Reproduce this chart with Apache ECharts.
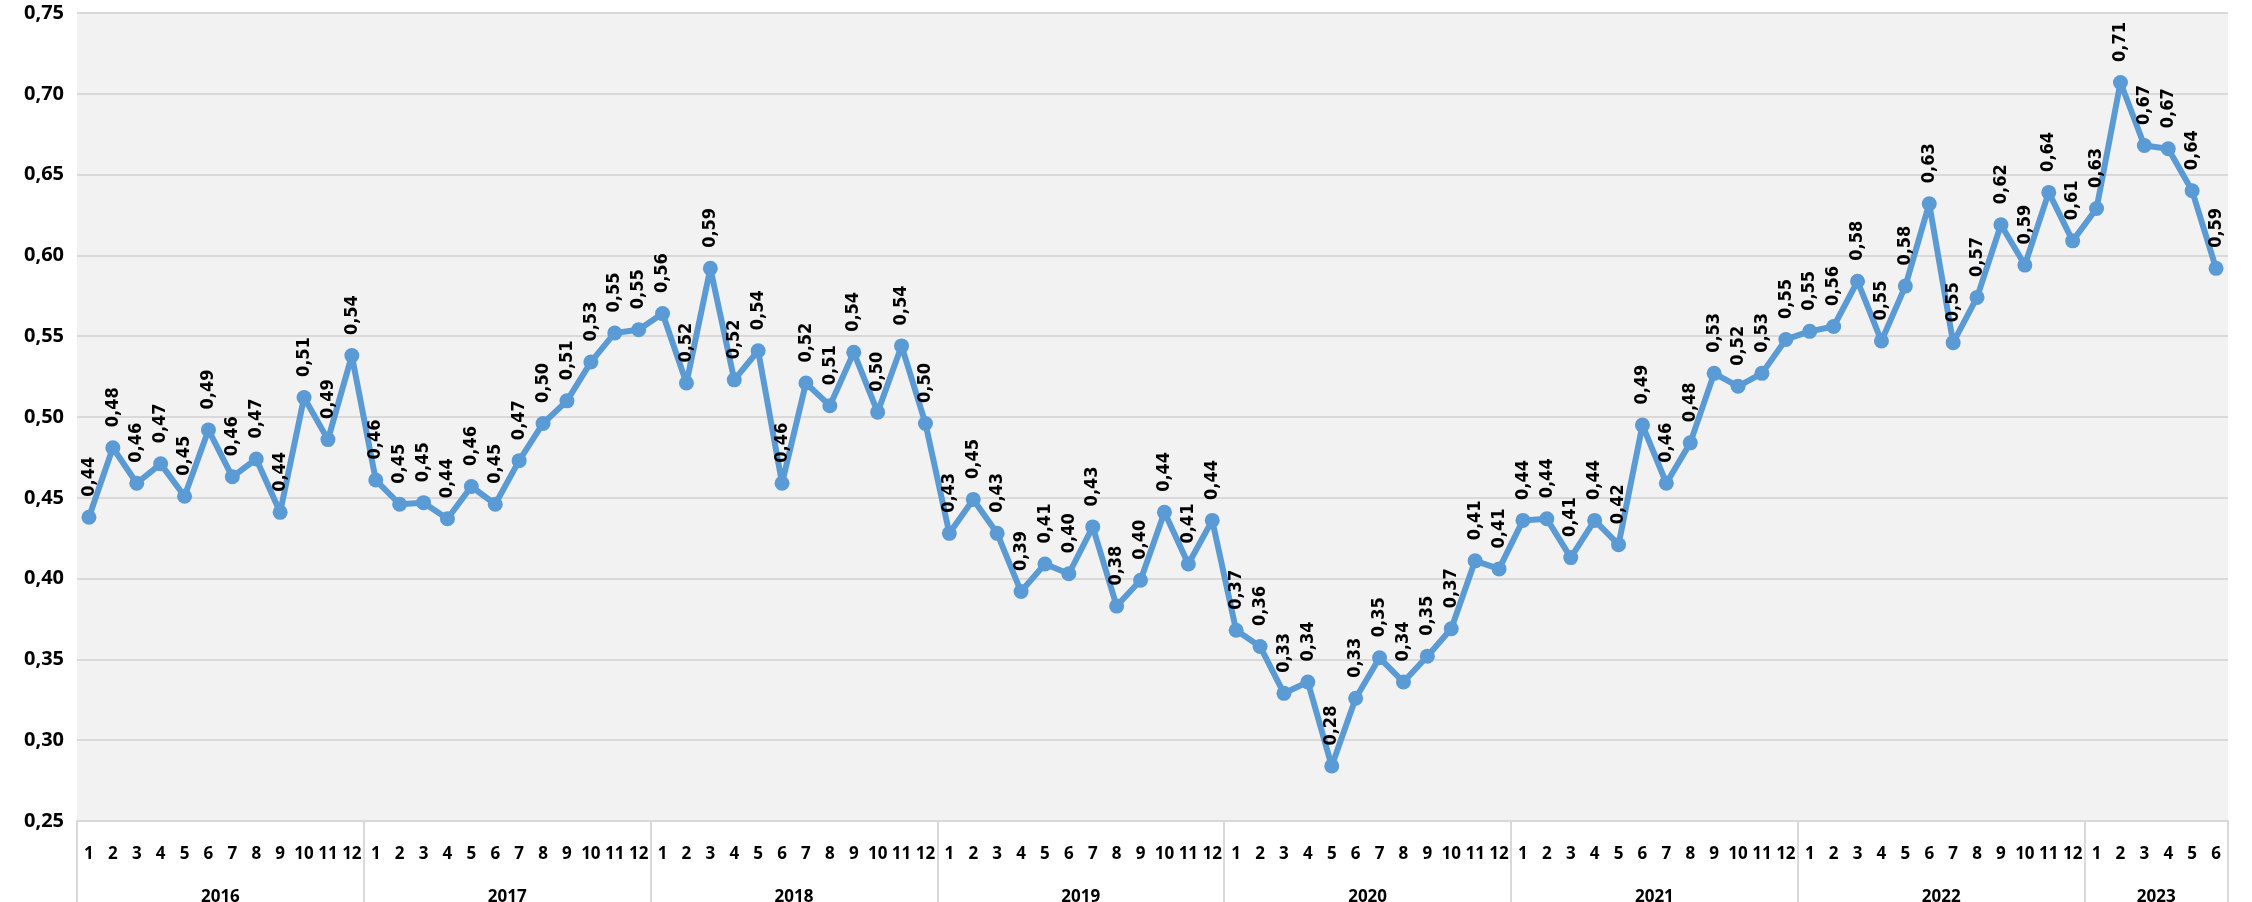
<html>
<head>
    <title>Chart</title>
    <script src="https://cdn.jsdelivr.net/npm/echarts@6/dist/echarts.min.js"></script>
</head>
<body style="margin:0; background:#fff;">
<div id="chart" style="width: 2252px; height: 902px;"></div>
<script type="text/javascript">
    var years = ['2016', '2017', '2018', '2019', '2020', '2021', '2022', '2023'];
    var monthsPerYear = [12, 12, 12, 12, 12, 12, 12, 6];
    var yTicks = [0.25, 0.30, 0.35, 0.40, 0.45, 0.50, 0.55, 0.60, 0.65, 0.70, 0.75];

    var values2016 = [0.438, 0.481, 0.459, 0.471, 0.451, 0.492, 0.463, 0.474, 0.441, 0.512, 0.486, 0.538];
    var values2017 = [0.461, 0.446, 0.447, 0.437, 0.457, 0.446, 0.473, 0.496, 0.510, 0.534, 0.552, 0.554];
    var values2018 = [0.564, 0.521, 0.592, 0.523, 0.541, 0.459, 0.521, 0.507, 0.540, 0.503, 0.544, 0.496];
    var values2019 = [0.428, 0.449, 0.428, 0.392, 0.409, 0.403, 0.432, 0.383, 0.399, 0.441, 0.409, 0.436];
    var values2020 = [0.368, 0.358, 0.329, 0.336, 0.284, 0.326, 0.351, 0.336, 0.352, 0.369, 0.411, 0.406];
    var values2021 = [0.436, 0.437, 0.413, 0.436, 0.421, 0.495, 0.459, 0.484, 0.527, 0.519, 0.527, 0.548];
    var values2022 = [0.553, 0.556, 0.584, 0.547, 0.581, 0.632, 0.546, 0.574, 0.619, 0.594, 0.639, 0.609];
    var values2023 = [0.629, 0.707, 0.668, 0.666, 0.640, 0.592];

    var values = [].concat(values2016, values2017, values2018, values2019,
        values2020, values2021, values2022, values2023);

    // month categories, and where each year's label sits (in months from the left edge)
    var months = [];
    var yearCenters = {};
    var pos = 0;
    for (var y = 0; y < years.length; y++) {
        for (var m = 1; m <= monthsPerYear[y]; m++) {
            months.push(String(m));
        }
        yearCenters[pos + monthsPerYear[y] / 2] = years[y];
        pos += monthsPerYear[y];
    }

    function comma(v) {
        return v.toFixed(2).replace('.', ',');
    }

    var axisFont = "'Open Sans', 'Noto Sans', sans-serif";

    var myChart = echarts.init(document.getElementById('chart'));
    var option = {
        animation: false,
        grid: {
            left: 77,
            right: 24,
            top: 13,
            bottom: 81,
            outerBoundsMode: 'none',
            containLabel: false,
            show: true,
            backgroundColor: '#F2F2F2',
            borderWidth: 0
        },
        xAxis: [
            {
                type: 'category',
                data: months,
                boundaryGap: true,
                axisLine: { show: true, lineStyle: { color: '#D9D9D9', width: 2 } },
                axisTick: {
                    show: true,
                    interval: function (i) { return i % 12 === 0; },
                    length: 81,
                    lineStyle: { color: '#D9D9D9', width: 2 }
                },
                axisLabel: {
                    interval: 0,
                    margin: 17,
                    color: '#000',
                    fontFamily: axisFont,
                    fontWeight: 'bold',
                    fontSize: 17
                },
                splitLine: { show: false }
            },
            {
                type: 'value',
                min: 0,
                max: 90,
                interval: 3,
                position: 'bottom',
                offset: 50,
                axisLine: { show: false },
                axisTick: { show: false },
                splitLine: { show: false },
                axisLabel: {
                    margin: 10,
                    color: '#000',
                    fontFamily: axisFont,
                    fontWeight: 'bold',
                    fontSize: 17,
                    formatter: function (v) { return yearCenters[v] || ''; }
                }
            }
        ],
        yAxis: {
            type: 'value',
            min: yTicks[0],
            max: yTicks[yTicks.length - 1],
            interval: 0.05,
            axisLine: { show: false },
            axisTick: { show: false },
            splitLine: { show: true, lineStyle: { color: '#D9D9D9', width: 2 } },
            axisLabel: {
                margin: 13,
                color: '#000',
                fontFamily: axisFont,
                fontWeight: 'bold',
                fontSize: 20,
                formatter: function (v) { return comma(v); }
            }
        },
        series: [
            {
                type: 'line',
                xAxisIndex: 0,
                data: values,
                symbol: 'circle',
                symbolSize: 15,
                lineStyle: { color: '#5B9BD5', width: 6 },
                itemStyle: { color: '#5B9BD5' },
                label: {
                    show: true,
                    position: 'top',
                    distance: 13,
                    rotate: 90,
                    align: 'left',
                    verticalAlign: 'middle',
                    color: '#000',
                    fontFamily: "'DejaVu Sans Condensed', 'DejaVu Sans', sans-serif",
                    fontWeight: 'bold',
                    fontSize: 18,
                    formatter: function (p) { return comma(p.value); }
                }
            }
        ]
    };
    myChart.setOption(option);
</script>
</body>
</html>
